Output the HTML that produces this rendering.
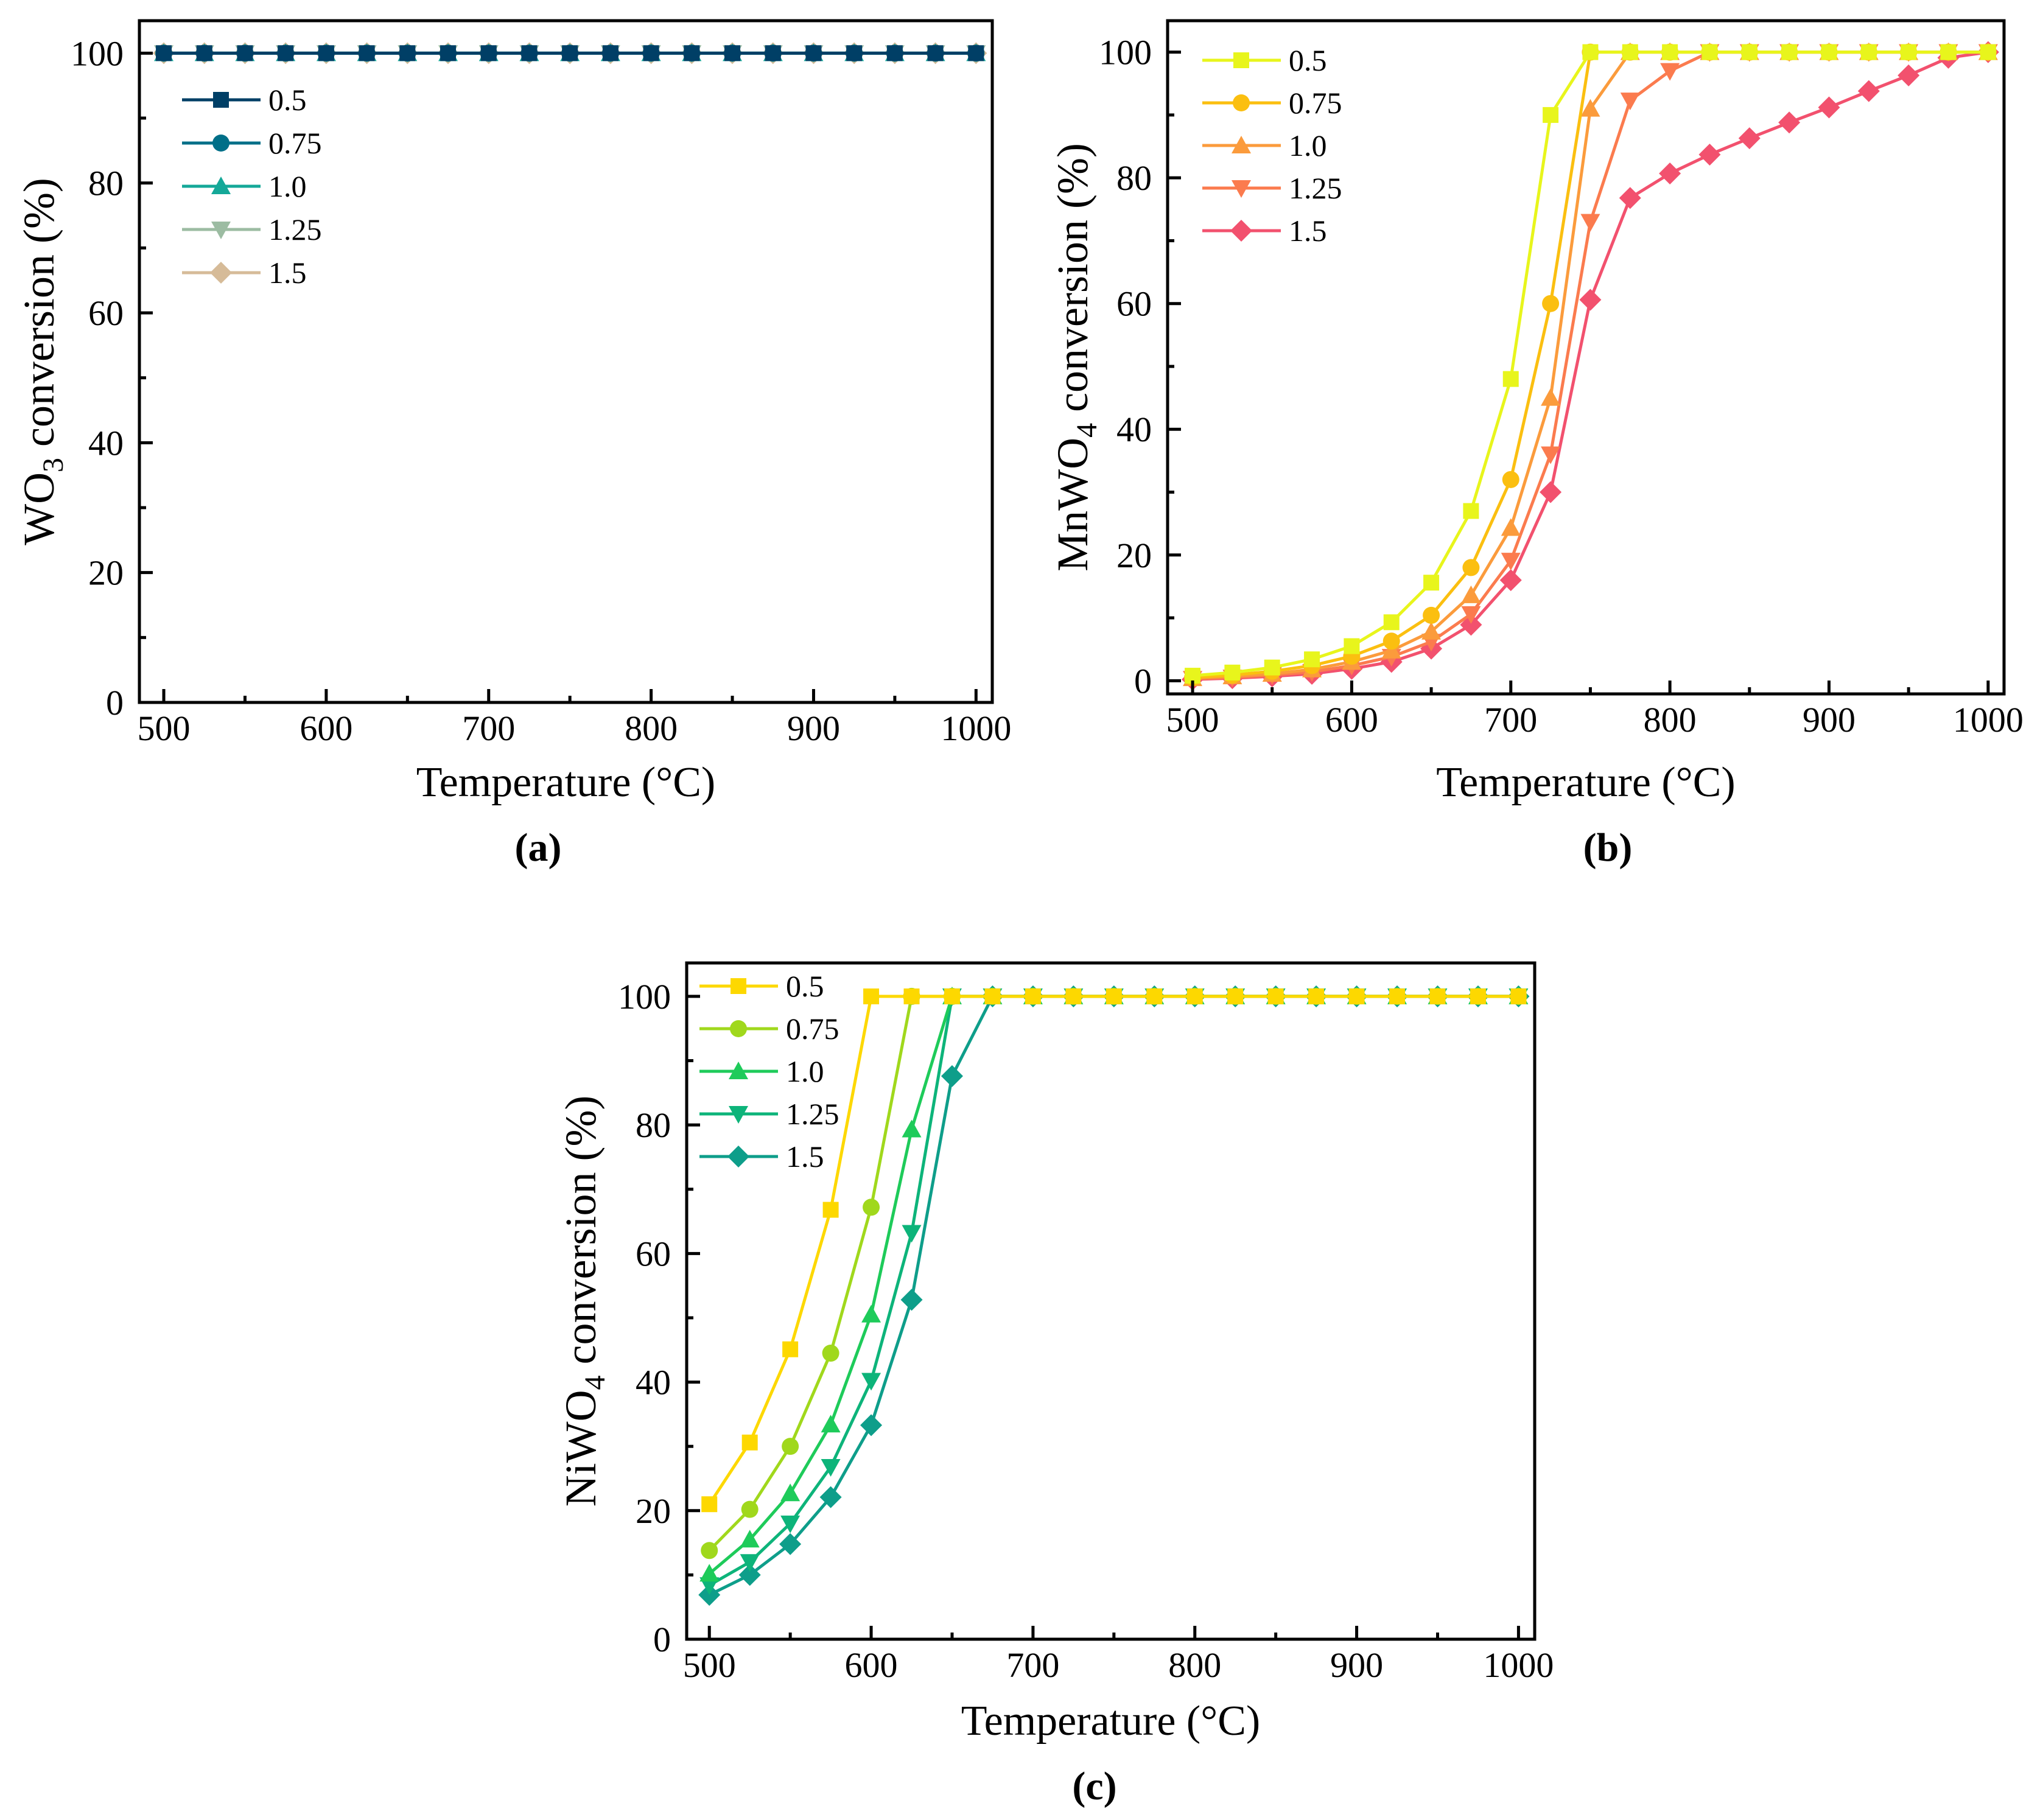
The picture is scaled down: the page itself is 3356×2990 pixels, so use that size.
<!DOCTYPE html>
<html><head><meta charset="utf-8">
<style>
html,body{margin:0;padding:0;background:#fff;}
svg{display:block;font-family:"Liberation Serif",serif;}
</style></head>
<body>
<svg id="fig" width="3356" height="2990" viewBox="0 0 3356 2990" xmlns="http://www.w3.org/2000/svg"></svg>
<script>
const temps = [500,525,550,575,600,625,650,675,700,725,750,775,800,825,850,875,900,925,950,975,1000];
const seriesNames = ["0.5","0.75","1.0","1.25","1.5"];
const xTicks = [500,600,700,800,900,1000];
const yTicks = [0,20,40,60,80,100];

const wo3_05  = [100,100,100,100,100,100,100,100,100,100,100,100,100,100,100,100,100,100,100,100,100];
const wo3_075 = [100,100,100,100,100,100,100,100,100,100,100,100,100,100,100,100,100,100,100,100,100];
const wo3_10  = [100,100,100,100,100,100,100,100,100,100,100,100,100,100,100,100,100,100,100,100,100];
const wo3_125 = [100,100,100,100,100,100,100,100,100,100,100,100,100,100,100,100,100,100,100,100,100];
const wo3_15  = [100,100,100,100,100,100,100,100,100,100,100,100,100,100,100,100,100,100,100,100,100];

const mn_05  = [0.8,1.3,2.1,3.4,5.5,9.3,15.6,27,48,90,100,100,100,100,100,100,100,100,100,100,100];
const mn_075 = [0.5,0.9,1.5,2.4,3.9,6.3,10.4,18,32,60,100,100,100,100,100,100,100,100,100,100,100];
const mn_10  = [0.4,0.7,1.1,1.8,3,4.8,7.8,13.6,24.3,45,91,100,100,100,100,100,100,100,100,100,100];
const mn_125 = [0.3,0.5,0.9,1.4,2.4,3.8,6.2,10.6,19.1,36,73,92.3,97,100,100,100,100,100,100,100,100];
const mn_15  = [0.2,0.4,0.7,1.1,1.9,3,5.1,8.9,16,30,60.6,76.8,80.7,83.7,86.3,88.8,91.2,93.8,96.3,99.1,100];

const ni_05  = [21,30.6,45.1,66.8,100,100,100,100,100,100,100,100,100,100,100,100,100,100,100,100,100];
const ni_075 = [13.8,20.2,30,44.5,67.2,100,100,100,100,100,100,100,100,100,100,100,100,100,100,100,100];
const ni_10  = [10.2,15.5,22.7,33.4,50.5,79.3,100,100,100,100,100,100,100,100,100,100,100,100,100,100,100];
const ni_125 = [8.4,12,18,26.8,40.2,63.2,100,100,100,100,100,100,100,100,100,100,100,100,100,100,100];
const ni_15  = [6.9,10,14.8,22.1,33.3,52.8,87.6,100,100,100,100,100,100,100,100,100,100,100,100,100,100];

const NS = "http://www.w3.org/2000/svg";
const svg = document.getElementById('fig');
function mk(tag, attrs, parent){
  const e = document.createElementNS(NS, tag);
  for (const k in attrs) e.setAttribute(k, attrs[k]);
  (parent||svg).appendChild(e);
  return e;
}
function marker(g, shape, cx, cy, color){
  const s = 13;
  let e;
  if (shape==='square') e = mk('rect',{x:cx-s,y:cy-s,width:2*s,height:2*s,fill:color},g);
  else if (shape==='circle') e = mk('circle',{cx:cx,cy:cy,r:s+1,fill:color},g);
  else if (shape==='up') e = mk('polygon',{points:`${cx},${cy-s-3} ${cx+s+3},${cy+s} ${cx-s-3},${cy+s}`,fill:color},g);
  else if (shape==='down') e = mk('polygon',{points:`${cx},${cy+s+3} ${cx+s+3},${cy-s} ${cx-s-3},${cy-s}`,fill:color},g);
  else e = mk('polygon',{points:`${cx},${cy-s-5} ${cx+s+5},${cy} ${cx},${cy+s+5} ${cx-s-5},${cy}`,fill:color},g);
  
  
  return e;
}
const shapes = ['square','circle','up','down','diamond'];

function panel(cfg){
  const {id,L,R,T,B,xmin,xmax,ymin,ymax,data,colors,ylabel,sub,label,labelX,legX,legY,legGap,xTitleY,yTitleX,labelY} = cfg;
  const g = mk('g',{});
  
  
  const X = v => L + (v-xmin)/(xmax-xmin)*(R-L);
  const Y = v => B - (v-ymin)/(ymax-ymin)*(B-T);
  for (let s=data.length-1; s>=0; s--){
    const sg = mk('g',{},g);
    
    
    const pts = temps.map((t,i)=>X(t)+','+Y(data[s][i])).join(' ');
    const pl = mk('polyline',{points:pts,fill:'none',stroke:colors[s],'stroke-width':5,'stroke-linejoin':'round'},sg);
    
    
    temps.forEach((t,i)=>marker(sg, shapes[s], X(t), Y(data[s][i]), colors[s]));
  }
  const box = mk('rect',{x:L,y:T,width:R-L,height:B-T,fill:'none',stroke:'#000','stroke-width':5},g);
  
  
  for (let v=500; v<=1000; v+=50){
    const major = v%100===0;
    const t = mk('line',{x1:X(v),x2:X(v),y1:B,y2:B-(major?22:11),stroke:'#000','stroke-width':5},g);
    
    
  }
  xTicks.forEach(v=>{
    const tx = mk('text',{x:X(v),y:B+62,'font-size':58,'text-anchor':'middle',fill:'#000'},g);
    tx.textContent = v;
    
    
  });
  for (let v=0; v<=100; v+=10){
    const major = v%20===0;
    const t = mk('line',{x1:L,x2:L+(major?22:11),y1:Y(v),y2:Y(v),stroke:'#000','stroke-width':5},g);
    
    
  }
  yTicks.forEach(v=>{
    const tx = mk('text',{x:L-26,y:Y(v)+20,'font-size':58,'text-anchor':'end',fill:'#000'},g);
    tx.textContent = v;
    
    
  });
  const xt = mk('text',{x:(L+R)/2,y:xTitleY,'font-size':70,'text-anchor':'middle',fill:'#000'},g);
  xt.textContent = 'Temperature (°C)';
  
  
  const cy = (T+B)/2;
  const yt = mk('text',{x:0,y:0,'font-size':72,'text-anchor':'middle',fill:'#000',transform:`translate(${yTitleX},${cy}) rotate(-90)`},g);
  
  
  const t1 = mk('tspan',{},yt); t1.textContent = ylabel;
  const t2 = mk('tspan',{dy:15,'font-size':48},yt); t2.textContent = sub;
  const t3 = mk('tspan',{dy:-15},yt); t3.textContent = ' conversion (%)';
  const pl = mk('text',{x:labelX,y:labelY,'font-size':66,'font-weight':'bold','text-anchor':'middle',fill:'#000'},g);
  pl.textContent = label;
  
  
  const lg = mk('g',{},g);
  
  
  seriesNames.forEach((n,s)=>{
    const y = legY + s*legGap;
    const eg = mk('g',{},lg);
    
    
    mk('line',{x1:legX,x2:legX+129,y1:y,y2:y,stroke:colors[s],'stroke-width':5},eg);
    marker(eg, shapes[s], legX+64, y, colors[s]);
    const tx = mk('text',{x:legX+142,y:y+17,'font-size':50,fill:'#000'},eg);
    tx.textContent = n;
  });
}

panel({id:'panel-a-wo3',L:229,R:1630,T:34,B:1154,xmin:485,xmax:1010,ymin:0,ymax:105,
  data:[wo3_05,wo3_075,wo3_10,wo3_125,wo3_15],
  colors:['#003f66','#006f88','#14a898','#9cbca2','#d6bb98'],
  ylabel:'WO',sub:'3',label:'(a)',labelX:884,legX:299,legY:164,legGap:71,xTitleY:1308,yTitleX:88,labelY:1414});
panel({id:'panel-b-mnwo4',L:1918,R:3292,T:34,B:1140,xmin:484.3,xmax:1010,ymin:-2.1,ymax:105,
  data:[mn_05,mn_075,mn_10,mn_125,mn_15],
  colors:['#e8f51c','#fbbf10','#fb9b3c','#fb7b4e','#f2516e'],
  ylabel:'MnWO',sub:'4',label:'(b)',labelX:2641,legX:1975,legY:99,legGap:70,xTitleY:1308,yTitleX:1786,labelY:1414});
panel({id:'panel-c-niwo4',L:1128,R:2521,T:1582,B:2693,xmin:486,xmax:1010,ymin:0,ymax:105.2,
  data:[ni_05,ni_075,ni_10,ni_125,ni_15],
  colors:['#fdd800','#a0d81c','#1ecb5a','#0db47a','#0e9e8a'],
  ylabel:'NiWO',sub:'4',label:'(c)',labelX:1798,legX:1149,legY:1620,legGap:70,xTitleY:2850,yTitleX:978,labelY:2956});
</script>
</body></html>
